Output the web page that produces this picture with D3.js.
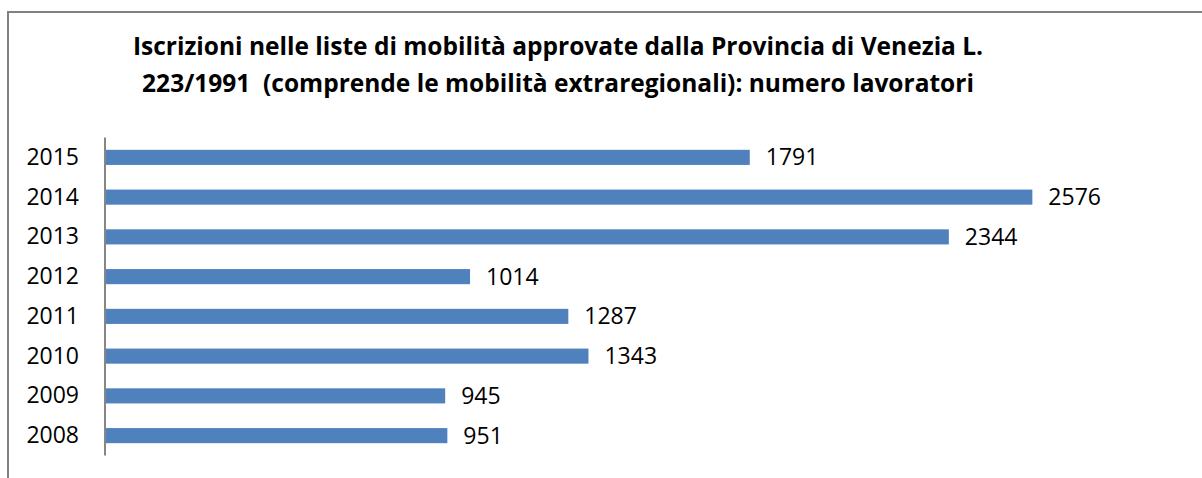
<!DOCTYPE html>
<html>
<head>
<meta charset="utf-8">
<script src="https://cdn.jsdelivr.net/npm/d3@7"></script>
<style>
  body { margin: 0; background: #fff; }
  text { font-family: "Open Sans", "Liberation Sans", sans-serif; }
</style>
</head>
<body>
<div id="chart"></div>
<script>
// Data
const years = ["2015", "2014", "2013", "2012", "2011", "2010", "2009", "2008"];
const workers = [1791, 2576, 2344, 1014, 1287, 1343, 945, 951];
const titleLines = [
  "Iscrizioni nelle liste di mobilità approvate dalla Provincia di Venezia L.",
  "223/1991  (comprende le mobilità extraregionali): numero lavoratori"
];

const width = 1202;
const height = 478;

const svg = d3.select("#chart")
  .append("svg")
  .attr("width", width)
  .attr("height", height)
  .attr("viewBox", [0, 0, width, height]);

// chart frame (right and bottom edges fall outside the picture)
svg.append("rect")
  .attr("x", 8)
  .attr("y", 12)
  .attr("width", 1300)
  .attr("height", 600)
  .attr("fill", "#fff")
  .attr("stroke", "#808080")
  .attr("stroke-width", 2);

// title
svg.append("text")
  .attr("x", 558)
  .attr("y", 55)
  .attr("text-anchor", "middle")
  .attr("font-weight", "bold")
  .attr("font-size", 24.5)
  .attr("fill", "#000")
  .selectAll("tspan")
  .data(titleLines)
  .join("tspan")
  .attr("x", 558)
  .attr("dy", (d, i) => i === 0 ? 0 : 37)
  .attr("xml:space", "preserve")
  .style("white-space", "pre")
  .text(d => d);

const x = d3.scaleLinear()
  .domain([0, 3000])
  .range([105, 1185]);

const y = d3.scaleBand()
  .domain(years)
  .range([137.5, 455.5])
  .paddingInner(0.62)
  .paddingOuter(0.31);

const data = years.map((yr, i) => ({ year: yr, value: workers[i] }));

// bars
svg.selectAll("rect.bar")
  .data(data)
  .join("rect")
  .attr("class", "bar")
  .attr("x", x(0))
  .attr("y", d => y(d.year))
  .attr("width", d => x(d.value) - x(0))
  .attr("height", y.bandwidth())
  .attr("fill", "#4f81bd");

// value labels
svg.selectAll("text.val")
  .data(data)
  .join("text")
  .attr("class", "val")
  .attr("x", d => x(d.value) + 16)
  .attr("y", d => y(d.year) + y.bandwidth() / 2)
  .attr("dy", "0.35em")
  .attr("font-size", 23)
  .attr("fill", "#000")
  .text(d => d.value);

// y axis
const yAxis = svg.append("g")
  .attr("transform", `translate(${x(0)},0)`)
  .call(d3.axisLeft(y).tickSize(0).tickPadding(26));

yAxis.select(".domain")
  .attr("stroke", "#868686")
  .attr("stroke-width", 2)
  .attr("d", `M0,137.5V455.5`);

yAxis.selectAll("text")
  .attr("font-size", 23)
  .attr("fill", "#000")
  .attr("font-family", "'Open Sans', sans-serif");
</script>
</body>
</html>
